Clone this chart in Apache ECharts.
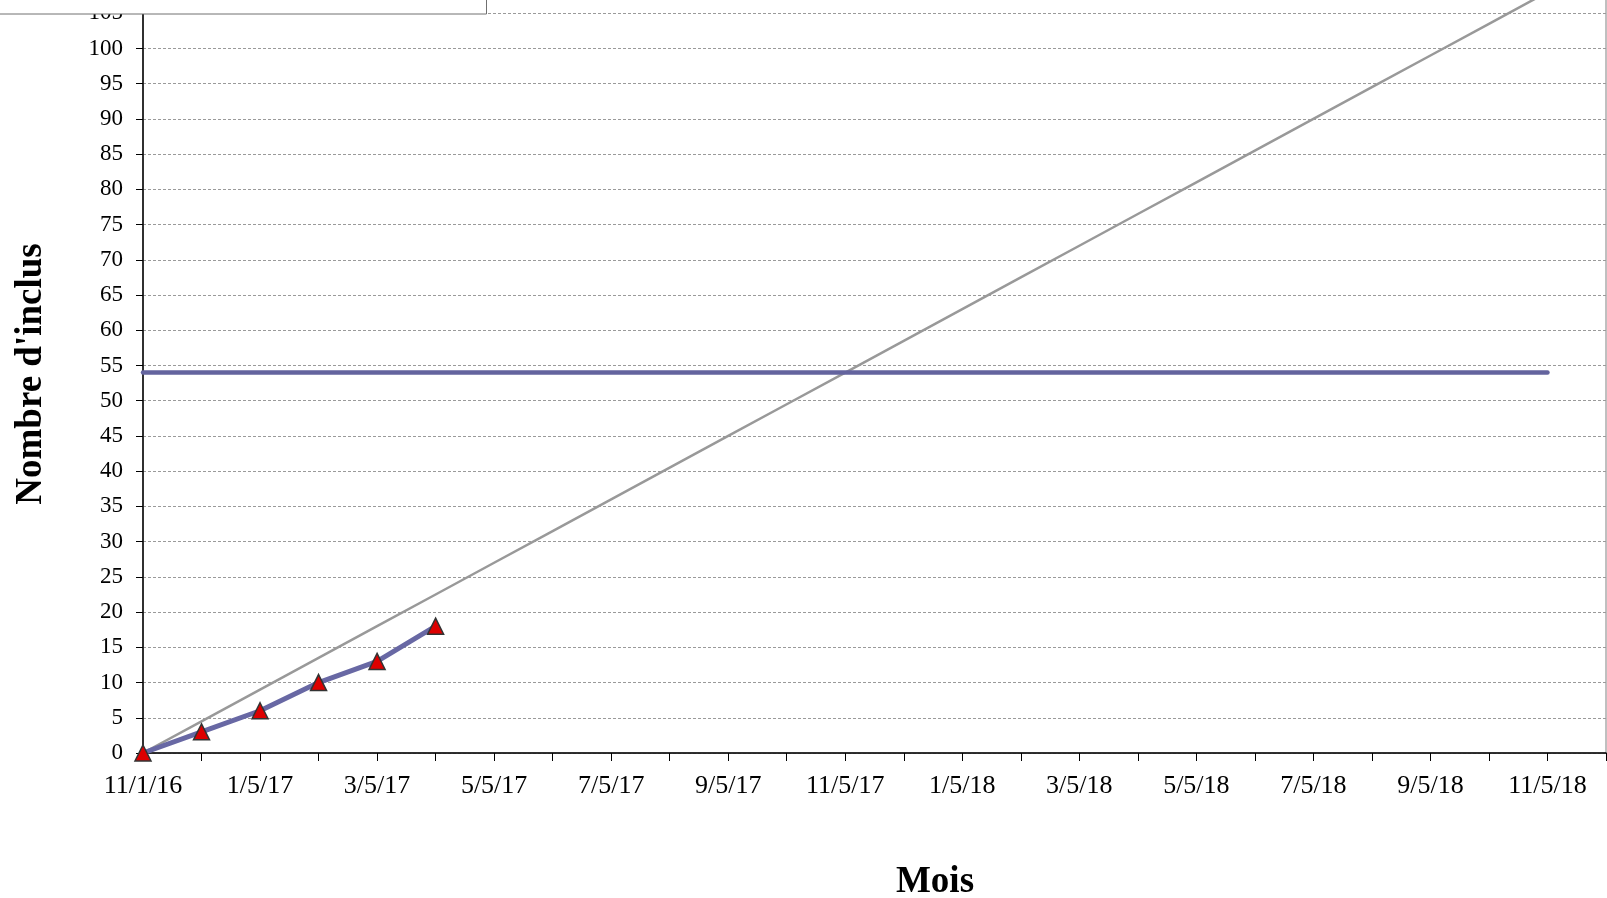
<!DOCTYPE html>
<html>
<head>
<meta charset="utf-8">
<title>Nombre d'inclus</title>
<script src="https://cdn.jsdelivr.net/npm/echarts@6/dist/echarts.min.js"></script>
<style>
  html, body { margin: 0; padding: 0; background: #ffffff; }
  #chart { width: 1607px; height: 898px; }
</style>
</head>
<body>
<div id="chart"></div>
<script>
// Months of the inclusion period (one category per month)
const months = [
  '11/1/16', '12/5/16', '1/5/17', '2/5/17', '3/5/17', '4/5/17', '5/5/17',
  '6/5/17', '7/5/17', '8/5/17', '9/5/17', '10/5/17', '11/5/17', '12/5/17',
  '1/5/18', '2/5/18', '3/5/18', '4/5/18', '5/5/18', '6/5/18', '7/5/18',
  '8/5/18', '9/5/18', '10/5/18', '11/5/18', '12/5/18'
];

// Cumulative number of included patients observed so far
const inclus = [0, 3, 6, 10, 13, 18];

// Expected cumulative inclusions month by month
const theorique = [
  0, 4.5, 9, 13.5, 18, 22.5, 27, 31.5, 36, 40.5, 45, 49.5, 54,
  58.5, 63, 67.5, 72, 76.5, 81, 85.5, 90, 94.5, 99, 103.5, 108
];

// Target number of inclusions over the whole period
const objectif = 54;
const objectifStart = '11/1/16';
const objectifEnd = '11/5/18';

// Value axis settings
const yMin = 0;
const yMax = 110;
const yStep = 5;

const serif = '"Liberation Serif", "Times New Roman", serif';

const chart = echarts.init(document.getElementById('chart'), null, { renderer: 'canvas' });

chart.setOption({
  backgroundColor: '#ffffff',
  animation: false,
  grid: {
    left: 143,
    right: 1,
    top: -22,
    bottom: 145,
    outerBoundsMode: 'none',
    containLabel: false,
    show: true,
    borderColor: '#808080',
    borderWidth: 1,
    backgroundColor: 'transparent'
  },
  xAxis: {
    type: 'category',
    data: months,
    boundaryGap: false,
    axisLine: { show: true, lineStyle: { color: '#000000', width: 1.5 } },
    axisTick: { show: true, interval: 0, length: 8, inside: false, lineStyle: { color: '#000000', width: 1 } },
    axisLabel: {
      interval: 1,
      margin: 20,
      color: '#000000',
      fontFamily: serif,
      fontSize: 26
    },
    splitLine: { show: false }
  },
  yAxis: {
    type: 'value',
    min: yMin,
    max: yMax,
    interval: yStep,
    axisLine: { show: true, lineStyle: { color: '#000000', width: 1.5 } },
    axisTick: { show: true, length: 7, lineStyle: { color: '#000000', width: 1 } },
    axisLabel: {
      margin: 20,
      color: '#000000',
      fontFamily: serif,
      fontSize: 23
    },
    splitLine: { show: true, lineStyle: { color: '#9a9a9a', width: 1, type: [3, 2] } }
  },
  series: [
    {
      name: 'Théorique',
      type: 'line',
      data: theorique,
      symbol: 'none',
      lineStyle: { color: '#999999', width: 2.5 },
      z: 2
    },
    {
      name: 'Objectif',
      type: 'line',
      data: [[objectifStart, objectif], [objectifEnd, objectif]],
      symbol: 'none',
      lineStyle: { color: '#64649e', width: 4.5, cap: 'round' },
      z: 3
    },
    {
      name: 'Inclus',
      type: 'line',
      data: inclus,
      symbol: 'triangle',
      symbolSize: 16,
      itemStyle: { color: '#dd0000', borderColor: '#333333', borderWidth: 1.5 },
      lineStyle: { color: '#6868a4', width: 5 },
      z: 4
    }
  ],
  graphic: [
    {
      type: 'rect',
      left: -2,
      top: -2,
      shape: { width: 488, height: 15.5 },
      style: { fill: '#ffffff', stroke: '#707070', lineWidth: 1 },
      z: 100
    },
    {
      type: 'text',
      x: 31,
      y: 374,
      rotation: Math.PI / 2,
      style: {
        text: "Nombre d'inclus",
        fill: '#000000',
        font: 'bold 37px ' + serif,
        align: 'center',
        verticalAlign: 'middle'
      }
    },
    {
      type: 'text',
      x: 935,
      y: 882,
      style: {
        text: 'Mois',
        fill: '#000000',
        font: 'bold 37px ' + serif,
        align: 'center',
        verticalAlign: 'middle'
      }
    }
  ]
});
</script>
</body>
</html>
